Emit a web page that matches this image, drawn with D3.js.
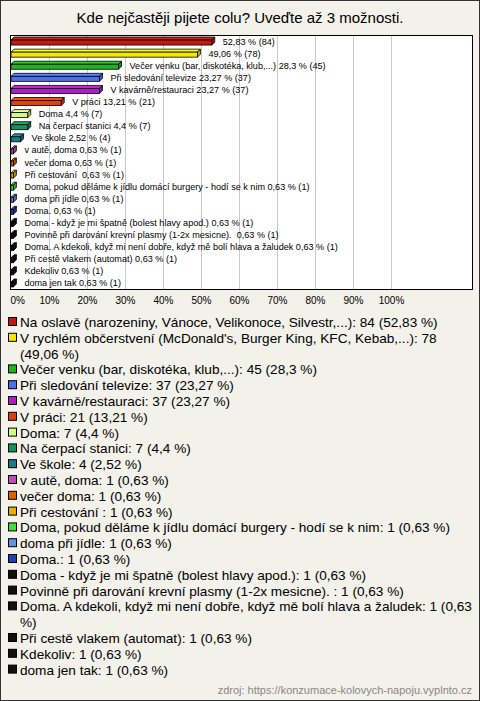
<!DOCTYPE html>
<html><head><meta charset="utf-8">
<script src="https://cdn.jsdelivr.net/npm/d3@7"></script>
<style>
html,body{margin:0;padding:0;background:#f2f1ea;}
svg{display:block;font-family:"Liberation Sans",Arial,sans-serif;}
</style></head><body>
<svg id="c" width="480" height="701"></svg>
<script>
const title = "Kde nejčastěji pijete colu? Uveďte až 3 možnosti.";
const categories = [
 "Na oslavě (narozeniny, Vánoce, Velikonoce, Silvestr,...)",
 "V rychlém občerstvení (McDonald's, Burger King, KFC, Kebab,...)",
 "Večer venku (bar, diskotéka, klub,...)",
 "Při sledování televize",
 "V kavárně/restauraci",
 "V práci",
 "Doma",
 "Na čerpací stanici",
 "Ve škole",
 "v autě, doma",
 "večer doma",
 "Při cestování ",
 "Doma, pokud děláme k jídlu domácí burgery - hodí se k nim",
 "doma při jídle",
 "Doma.",
 "Doma - když je mi špatně (bolest hlavy apod.)",
 "Povinně při darování krevní plasmy (1-2x mesicne). ",
 "Doma. A kdekoli, když mi není dobře, když mě bolí hlava a žaludek",
 "Při cestě vlakem (automat)",
 "Kdekoliv",
 "doma jen tak"
];
const showNameInChart = [false,false,true,true,true,true,true,true,true,true,true,true,true,true,true,true,true,true,true,true,true];
const counts = [84,78,45,37,37,21,7,7,4,1,1,1,1,1,1,1,1,1,1,1,1];
const percents = [52.83,49.06,28.3,23.27,23.27,13.21,4.4,4.4,2.52,0.63,0.63,0.63,0.63,0.63,0.63,0.63,0.63,0.63,0.63,0.63,0.63];
const colors = ["#c01a0c","#f8e800","#1db41d","#4a6ff0","#b01cc8","#e0400e","#ccff80","#13935a","#1d7a8a","#c04ab8","#e06000","#e8b000","#40e040","#6a8ee0","#2040b0","#111111","#111111","#111111","#111111","#111111","#111111"];
const xTicks = [0,10,20,30,40,50,60,70,80,90,100];
const source = "zdroj: https://konzumace-kolovych-napoju.vyplnto.cz";

const fmt = v => String(v).replace(".", ",");
const svg = d3.select("#c");

// outer frame
svg.append("rect").attr("x",0.5).attr("y",0.5).attr("width",479).attr("height",700)
  .attr("fill","#f2f1ea").attr("stroke","#333");

svg.append("text").attr("x",240).attr("y",23).attr("text-anchor","middle")
  .attr("font-size",15).attr("fill","#000").text(title);

const plot = {l:10.5, t:35.5, r:472.5, b:289.5};
svg.append("rect").attr("x",plot.l).attr("y",plot.t).attr("width",plot.r-plot.l).attr("height",plot.b-plot.t)
  .attr("fill","#fff");

const x = d3.scaleLinear().domain([0,100]).range([11,391]);
const y = d3.scaleBand().domain(d3.range(categories.length)).range([plot.t, plot.b]);

// grid
svg.append("g").selectAll("line").data(xTicks.filter(d=>d>0)).join("line")
  .attr("x1",d=>Math.round(x(d))+0.5).attr("x2",d=>Math.round(x(d))+0.5)
  .attr("y1",plot.t).attr("y2",plot.b).attr("stroke","#c8c8c8");

// axis
const axis = d3.axisBottom(x).tickValues(xTicks).tickFormat(d=>d+"%").tickSize(0).tickPadding(0);
const ax = svg.append("g").attr("transform",`translate(0,${plot.b+5})`).call(axis);
ax.select(".domain").remove();
ax.selectAll("text").attr("font-size",10).attr("fill","#000").attr("font-family","Liberation Sans, Arial, sans-serif")
  .attr("dy","0.9em");
ax.selectAll(".tick").filter(d=>d===0).select("text").attr("text-anchor","start").attr("x",-1);

// 3D bars
const depth = 3, bh = 5;
const bars = svg.append("g");
const rows = bars.selectAll("g").data(d3.range(categories.length)).join("g");
rows.each(function(i){
  const g = d3.select(this);
  const x0 = x(0), x1 = x(percents[i]);
  const cy = y(i) + y.bandwidth()/2;
  const top = cy - bh/2 + 1;
  const c = colors[i];
  const light = d3.color(c).brighter(0.5).formatHex();
  const dark = d3.color(c).darker(0.7).formatHex();
  g.append("path").attr("d",`M${x0},${top} L${x0+depth},${top-depth} L${x1+depth},${top-depth} L${x1},${top} Z`)
    .attr("fill",light).attr("stroke","#000").attr("stroke-width",0.8);
  g.append("path").attr("d",`M${x1},${top} L${x1+depth},${top-depth} L${x1+depth},${top-depth+bh} L${x1},${top+bh} Z`)
    .attr("fill",dark).attr("stroke","#000").attr("stroke-width",0.8);
  g.append("rect").attr("x",x0).attr("y",top).attr("width",Math.max(0,x1-x0)).attr("height",bh)
    .attr("fill",c).attr("stroke","#000").attr("stroke-width",0.8);
  const label = (showNameInChart[i] ? categories[i] + " " : "") + fmt(percents[i]) + " % (" + counts[i] + ")";
  g.append("text").attr("x",x1+depth+8).attr("y",cy+3).attr("font-size",9.1).attr("fill","#000")
    .attr("xml:space","preserve").text(label);
});

svg.append("rect").attr("x",plot.l).attr("y",plot.t).attr("width",plot.r-plot.l).attr("height",plot.b-plot.t)
  .attr("fill","none").attr("stroke","#000");

// legend
const leg = svg.append("g");
const lh = 15.8, fs = 13.6, maxW = 458, tx = 20;
let ly = 327;
categories.forEach((name,i)=>{
  const txt = `${name}: ${counts[i]} (${fmt(percents[i])} %)`.replace(/\s+/g," ");
  leg.append("rect").attr("x",8.5).attr("y",ly-9.5).attr("width",8).attr("height",8)
    .attr("fill",colors[i]).attr("stroke","#000");
  const t = leg.append("text").attr("x",tx).attr("y",ly).attr("font-size",fs).attr("fill","#000");
  const words = txt.split(" ");
  let line = [];
  let ts = t.append("tspan").attr("x",tx).attr("y",ly);
  words.forEach(w=>{
    line.push(w);
    ts.text(line.join(" "));
    if (ts.node().getComputedTextLength() > maxW && line.length>1){
      line.pop(); ts.text(line.join(" "));
      line=[w]; ly += lh;
      ts = t.append("tspan").attr("x",tx).attr("y",ly).text(w);
    }
  });
  ly += lh;
});

svg.append("text").attr("x",472).attr("y",694).attr("text-anchor","end").attr("font-size",11)
  .attr("fill","#888").text(source);
</script>
</body></html>
